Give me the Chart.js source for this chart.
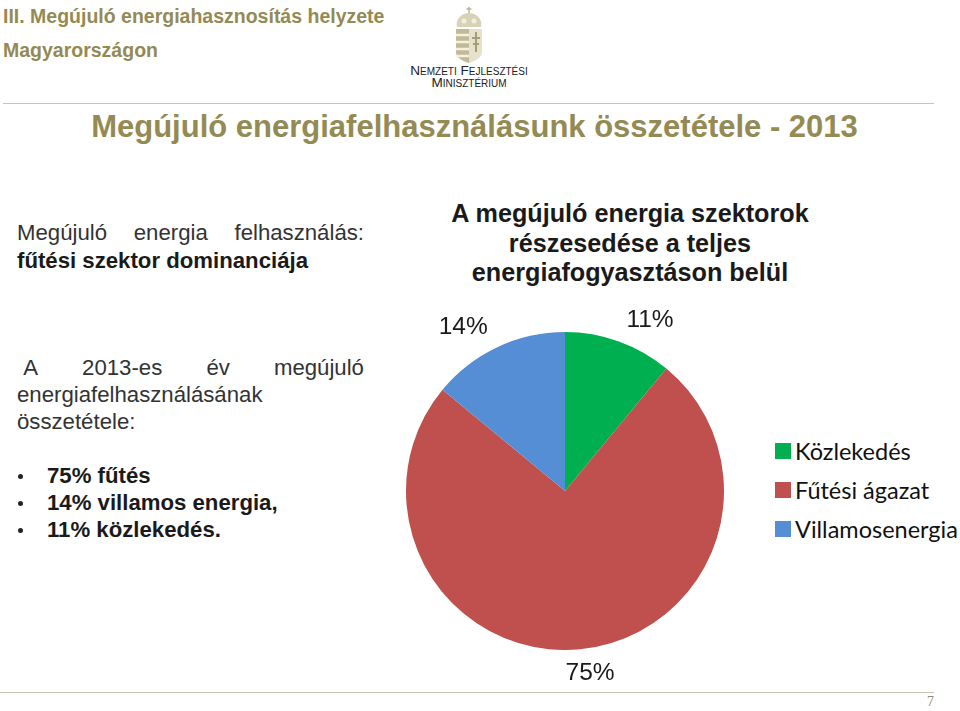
<!DOCTYPE html>
<html lang="hu">
<head>
<meta charset="utf-8">
<title>Megújuló energiafelhasználásunk összetétele - 2013</title>
<script src="https://cdn.jsdelivr.net/npm/chart.js@4.4.1/dist/chart.umd.min.js"></script>
<style>
html, body { margin: 0; padding: 0; background: #fff; }
body { width: 960px; height: 711px; position: relative; overflow: hidden; font-family: "Liberation Sans", Arial, sans-serif; }
.t { position: absolute; white-space: nowrap; }
.head { color: #948a54; font-weight: bold; font-size: 19.5px; left: 3px; }
.body { color: #333; font-size: 22.2px; left: 17px; width: 347px; }
.just { display: flex; justify-content: space-between; }
.dark { color: #1a1a1a; font-weight: bold; font-size: 22.2px; left: 47px; }
.dot { position: absolute; left: 18px; width: 5px; height: 5px; border-radius: 3px; background: #222; }
.sub { color: #1a1a1a; font-weight: bold; font-size: 25.2px; left: 400px; width: 460px; text-align: center; }
.rule { position: absolute; height: 1px; background: #c7c6b4; }
#chart-wrap { position: absolute; left: 380px; top: 295px; width: 370px; height: 392px; }
#legend { position: absolute; left: 775px; top: 431px; margin: 0; padding: 0; list-style: none; }
#legend li { height: 39px; display: flex; align-items: center; font: 23.5px Lato, sans-serif; color: #111; white-space: nowrap; }
#legend i { display: block; width: 16px; height: 16px; margin-right: 4px; }
</style>
</head>
<body>
<div class="t head" style="top:5px">III. Megújuló energiahasznosítás helyzete</div>
<div class="t head" style="top:39px">Magyarországon</div>

<svg style="position:absolute;left:452px;top:6px" width="34" height="58" viewBox="0 0 34 58">
  <path d="M17 1v6M14.5 3h5" stroke="#bdb592" stroke-width="1.5"/>
  <path d="M5 21C3 13 10 7 17 7s14 6 12 14z" fill="#d8d2b6"/>
  <circle cx="12" cy="15" r="2.5" fill="#f2efe2"/><circle cx="22" cy="15" r="2.5" fill="#f2efe2"/>
  <path d="M4 23h26v23c0 6-7 9-13 11C11 55 4 52 4 46z" fill="#e6e1cc"/>
  <path d="M4 23h13v34C11 55 4 52 4 46z" fill="#c2ba95"/>
  <path d="M4 29h13M4 36h13M4 43h13M4 50h13" stroke="#f4f1e4" stroke-width="2.5"/>
  <path d="M24 26v20M20 32h8M21 38h6" stroke="#a69d76" stroke-width="2"/>
</svg>
<div class="t" style="left:400px;top:65px;width:138px;text-align:center;font:small-caps 13.6px/12px 'Liberation Sans',sans-serif;color:#222">Nemzeti Fejlesztési<br>Minisztérium</div>

<div class="rule" style="left:3px;top:103px;width:931px"></div>
<div class="t" style="left:0;top:109px;width:949px;text-align:center;color:#948a54;font-weight:bold;font-size:31px">Megújuló energiafelhasználásunk összetétele - 2013</div>

<div class="t body just" style="top:220px"><span>Megújuló</span><span>energia</span><span>felhasználás:</span></div>
<div class="t dark" style="top:248px;left:17px">fűtési szektor dominanciája</div>
<div class="t body just" style="top:355px"><span>&nbsp;A</span><span>2013-es</span><span>év</span><span>megújuló</span></div>
<div class="t body" style="top:382px">energiafelhasználásának</div>
<div class="t body" style="top:409px">összetétele:</div>
<div class="dot" style="top:474px"></div><div class="t dark" style="top:463px">75% fűtés</div>
<div class="dot" style="top:501px"></div><div class="t dark" style="top:490px">14% villamos energia,</div>
<div class="dot" style="top:528px"></div><div class="t dark" style="top:517px">11% közlekedés.</div>

<div class="t sub" style="top:199px">A megújuló energia szektorok</div>
<div class="t sub" style="top:229px">részesedése a teljes</div>
<div class="t sub" style="top:258px">energiafogyasztáson belül</div>

<div id="chart-wrap"><canvas id="pie"></canvas></div>
<ul id="legend"></ul>

<div class="rule" style="left:0;top:692px;width:934px"></div>
<div class="t" style="left:927px;top:694px;color:#8a8a80;font:14px 'Liberation Serif',serif">7</div>

<script>
var categories = ["Közlekedés", "Fűtési ágazat", "Villamosenergia"];
var shares = [11, 75, 14];
var sliceColors = ["#00b050", "#c0504d", "#558ed5"];

// the percent labels sit outside the pie, not quite on the radial line
var labelDistance = 192;
var labelNudge = [[20, 10], [7, -9], [-20, 10]];

var outsideLabels = {
    id: "outsideLabels",
    afterDatasetsDraw: function (chart) {
        var ctx = chart.ctx;
        ctx.save();
        ctx.font = "24.5px 'Liberation Sans', Arial, sans-serif";
        ctx.fillStyle = "#1a1a1a";
        ctx.textAlign = "center";
        ctx.textBaseline = "middle";
        chart.getDatasetMeta(0).data.forEach(function (arc, i) {
            var mid = (arc.startAngle + arc.endAngle) / 2;
            var x = arc.x + Math.cos(mid) * labelDistance + labelNudge[i][0];
            var y = arc.y + Math.sin(mid) * labelDistance + labelNudge[i][1];
            ctx.fillText(shares[i] + "%", x, y);
        });
        ctx.restore();
    }
};

var chart = new Chart(document.getElementById("pie"), {
    type: "pie",
    data: {
        labels: categories,
        datasets: [{ data: shares, backgroundColor: sliceColors, borderWidth: 0 }]
    },
    options: {
        responsive: true,
        maintainAspectRatio: false,
        animation: false,
        layout: { padding: { left: 6, top: 37, bottom: 37, right: 6 } },
        plugins: {
            tooltip: { enabled: false },
            legend: { display: false }
        }
    },
    plugins: [outsideLabels]
});

// legend built from the chart's own items so the box-to-text gap can follow the slide
var legendEl = document.getElementById("legend");
chart.options.plugins.legend.labels.generateLabels(chart).forEach(function (item) {
    var li = document.createElement("li");
    var box = document.createElement("i");
    box.style.background = item.fillStyle;
    li.appendChild(box);
    li.appendChild(document.createTextNode(item.text));
    legendEl.appendChild(li);
});
</script>
</body>
</html>
